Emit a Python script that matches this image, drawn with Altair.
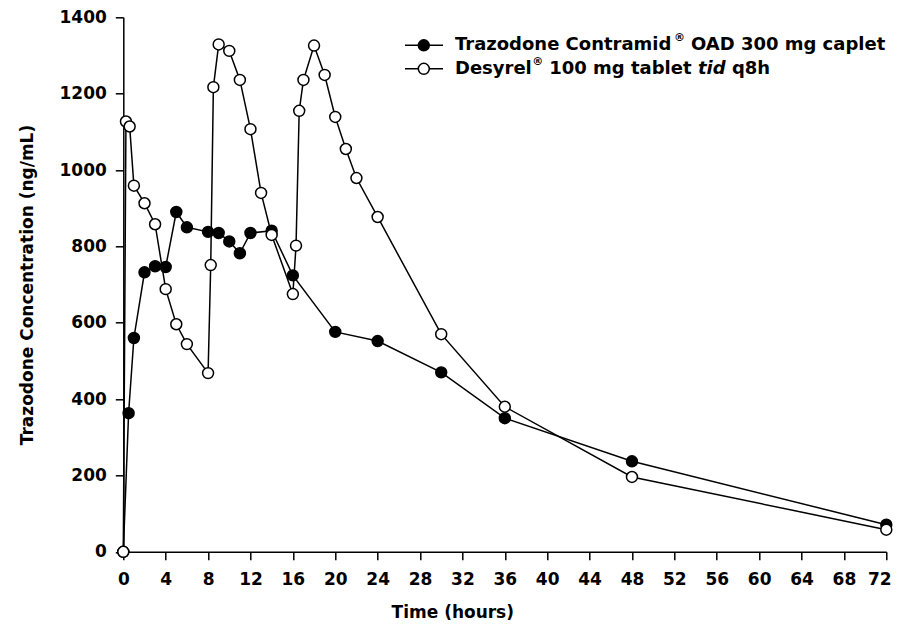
import altair as alt
import pandas as pd

# ---- data ----
contramid_t = [0, 0.5, 1, 2, 3, 4, 5, 6, 8, 9, 10, 11, 12, 14, 16, 20, 24, 30, 36, 48, 72]
contramid_c = [0, 363, 560, 732, 748, 746, 890, 850, 838, 835, 813, 782, 835, 841, 724, 576, 552, 470, 350, 237, 71]

desyrel_t = [0, 0.25, 0.6, 1, 2, 3, 4, 5, 6, 8, 8.25, 8.5, 9, 10, 11, 12, 13, 14, 16, 16.3, 16.6,
             17, 18, 19, 20, 21, 22, 24, 30, 36, 48, 72]
desyrel_c = [0, 1127, 1114, 959, 913, 858, 688, 596, 544, 468, 751, 1217, 1329, 1312, 1236, 1107, 940,
             830, 675, 802, 1155, 1236, 1326, 1249, 1139, 1055, 979, 877, 570, 380, 196, 58]

x_ticks = list(range(0, 73, 4))
y_ticks = list(range(0, 1401, 200))

FONT = "DejaVu Sans"
W, H = 763, 534.5

df_a = pd.DataFrame({"t": contramid_t, "c": contramid_c})
df_b = pd.DataFrame({"t": desyrel_t, "c": desyrel_c})
one = pd.DataFrame({"k": [0]})

xenc = alt.X("t:Q", scale=alt.Scale(domain=[0, 72], nice=False),
             axis=alt.Axis(values=x_ticks, title="Time (hours)", grid=False, tickSize=8,
                           labelPadding=12, labelFlush=False, labelOverlap=False, format="d",
                           labelOffset={"condition": {"test": "datum.value == 72", "value": -7},
                                        "value": 0},
                           titleX=329, titleY=66, titleBaseline="alphabetic",
                           titleAlign="center"))
yenc = alt.Y("c:Q", scale=alt.Scale(domain=[0, 1400], nice=False),
             axis=alt.Axis(values=y_ticks, title="Trazodone Concentration (ng/mL)", grid=False,
                           tickSize=8, labelPadding=9, labelOverlap=False, labelFlush=False,
                           format="d",
                           titleX=-91, titleY=H / 2, titleBaseline="alphabetic",
                           titleAlign="center", titleAngle=270))

MS = 120
line_a = alt.Chart(df_a).mark_line(color="black", strokeWidth=1.5).encode(x=xenc, y=yenc)
pts_a = alt.Chart(df_a).mark_point(shape="circle", filled=True, fill="black", stroke="black",
                                   strokeWidth=1.5, size=MS, opacity=1).encode(x="t:Q", y="c:Q")
line_b = alt.Chart(df_b).mark_line(color="black", strokeWidth=1.5).encode(x="t:Q", y="c:Q")
pts_b = alt.Chart(df_b).mark_point(shape="circle", filled=True, fill="white", stroke="black",
                                   strokeWidth=1.5, size=MS, opacity=1).encode(x="t:Q", y="c:Q")

# ---- legend (drawn manually) ----
LX0, LX1, LXC = 281.7, 319.7, 300.5
R1, R2 = 28.0, 51.5
TX = 331.7
FS = 18


def txt(s, x, y, size=FS, style="normal", dy=0):
    return alt.Chart(one).mark_text(text=s, font=FONT, fontSize=size, fontWeight="bold",
                                    fontStyle=style, align="left", baseline="middle",
                                    dy=dy, color="black").encode(x=alt.value(x), y=alt.value(y))


leg = [
    alt.Chart(one).mark_rule(color="black", strokeWidth=1.5).encode(
        x=alt.value(LX0), x2=alt.value(LX1), y=alt.value(R1)),
    alt.Chart(one).mark_point(shape="circle", filled=True, fill="black", stroke="black",
                              strokeWidth=1.5, size=MS, opacity=1).encode(
        x=alt.value(LXC), y=alt.value(R1)),
    alt.Chart(one).mark_rule(color="black", strokeWidth=1.5).encode(
        x=alt.value(LX0), x2=alt.value(LX1), y=alt.value(R2)),
    alt.Chart(one).mark_point(shape="circle", filled=True, fill="white", stroke="black",
                              strokeWidth=1.5, size=MS, opacity=1).encode(
        x=alt.value(LXC), y=alt.value(R2)),
]

# row 1
xr1 = TX + 12.14 * FS + 0.5
leg.append(txt("Trazodone Contramid", TX, R1))
leg.append(txt("®", xr1, R1, size=11, dy=-7))
leg.append(txt("OAD 300 mg caplet", xr1 + 11 + 6, R1))
# row 2
xr2 = TX + 4.267 * FS + 0.5
leg.append(txt("Desyrel", TX, R2))
leg.append(txt("®", xr2, R2, size=11, dy=-7))
x3 = xr2 + 11 + 6
leg.append(txt("100 mg tablet", x3, R2))
x4 = x3 + 7.91 * FS + 6.3
leg.append(txt("tid", x4, R2, style="italic"))
x5 = x4 + 1.537 * FS + 6.3
leg.append(txt("q8h", x5, R2))

chart = alt.layer(line_a, pts_a, line_b, pts_b, *leg).properties(
    width=W, height=H,
    autosize=alt.AutoSizeParams(type="none"),
    padding={"left": 115.3, "top": 9.3, "right": 6.5, "bottom": 72},
).configure_view(stroke=None).configure_axis(
    domainColor="black", domainWidth=1.5, tickColor="black", tickWidth=1.5,
    labelFont=FONT, labelFontSize=17, labelFontWeight="bold", labelColor="black",
    titleFont=FONT, titleFontSize=17, titleFontWeight="bold", titleColor="black",
)

chart.save("out.html", embed_options={"renderer": "svg", "actions": False})
